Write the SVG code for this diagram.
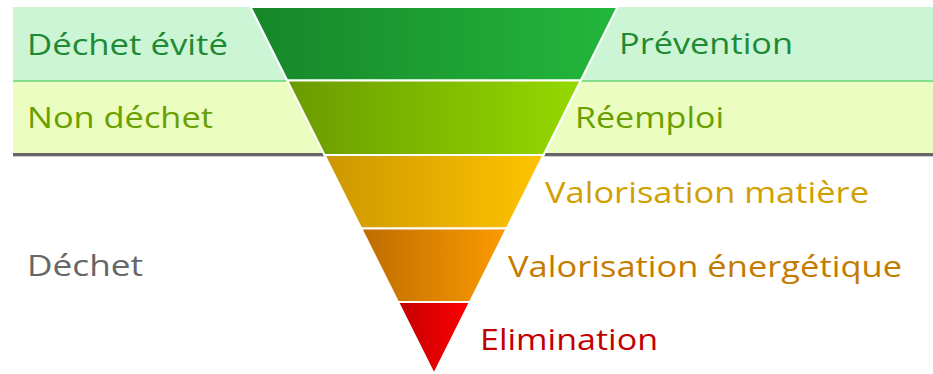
<svg xmlns="http://www.w3.org/2000/svg" width="933" height="374" viewBox="0 0 933 374">
<defs>
<linearGradient id="g1" x1="0" y1="0" x2="1" y2="0"><stop offset="0" stop-color="#17862a"/><stop offset="1" stop-color="#23b73c"/></linearGradient>
<linearGradient id="g2" x1="0" y1="0" x2="1" y2="0"><stop offset="0" stop-color="#6a9b00"/><stop offset="1" stop-color="#95d900"/></linearGradient>
<linearGradient id="g3" x1="0" y1="0" x2="1" y2="0"><stop offset="0" stop-color="#cc9700"/><stop offset="1" stop-color="#fec400"/></linearGradient>
<linearGradient id="g4" x1="0" y1="0" x2="1" y2="0"><stop offset="0" stop-color="#bd6c00"/><stop offset="1" stop-color="#fc9b00"/></linearGradient>
<linearGradient id="g5" x1="0" y1="0" x2="1" y2="0"><stop offset="0" stop-color="#c20000"/><stop offset="1" stop-color="#ff0000"/></linearGradient>
</defs>
<style>
.seg{stroke:#ffffff;stroke-width:2;stroke-linejoin:miter}
.t{font-family:"Open Sans","Noto Sans","DejaVu Sans",sans-serif;font-size:29px}
</style>
<g id="bands">
<rect x="13" y="7" width="920" height="74" fill="#ccf5d6"/>
<rect x="13" y="81" width="920" height="73" fill="#ecfdc2"/>
<rect x="13" y="80" width="920" height="2" fill="#86de8f"/>
<rect x="13" y="153" width="920" height="3" fill="#666666"/>
<rect x="13" y="156" width="920" height="1" fill="#cfcfcf"/>
</g>
<g id="funnel">
<polygon id="s1" class="seg" fill="url(#g1)" points="250.5,7 617.5,7 580.75,80.5 287.25,80.5"/>
<polygon id="s2" class="seg" fill="url(#g2)" points="287.25,80.5 580.75,80.5 543.5,155 324.5,155"/>
<polygon id="s3" class="seg" fill="url(#g3)" points="324.5,155 543.5,155 506.75,228.5 361.25,228.5"/>
<polygon id="s4" class="seg" fill="url(#g4)" points="361.25,228.5 506.75,228.5 470,302 398,302"/>
<polygon id="s5" class="seg" fill="url(#g5)" points="398,302 470,302 434,374"/>
</g>
<g id="labels">
<text class="t" x="27" y="55" fill="#1e8a33" textLength="201" lengthAdjust="spacingAndGlyphs">Déchet évité</text>
<text class="t" x="27" y="128" fill="#6a9f00" textLength="186" lengthAdjust="spacingAndGlyphs">Non déchet</text>
<text class="t" x="27" y="276" fill="#666666" textLength="116" lengthAdjust="spacingAndGlyphs">Déchet</text>
<text class="t" x="619" y="54" fill="#1e8a33" textLength="174" lengthAdjust="spacingAndGlyphs">Prévention</text>
<text class="t" x="575" y="128" fill="#6a9f00" textLength="149" lengthAdjust="spacingAndGlyphs">Réemploi</text>
<text class="t" x="545" y="203" fill="#d1a000" textLength="324" lengthAdjust="spacingAndGlyphs">Valorisation matière</text>
<text class="t" x="508" y="277" fill="#c47c00" textLength="394" lengthAdjust="spacingAndGlyphs">Valorisation énergétique</text>
<text class="t" x="480" y="350" fill="#c20000" textLength="178" lengthAdjust="spacingAndGlyphs">Elimination</text>
</g>
</svg>
